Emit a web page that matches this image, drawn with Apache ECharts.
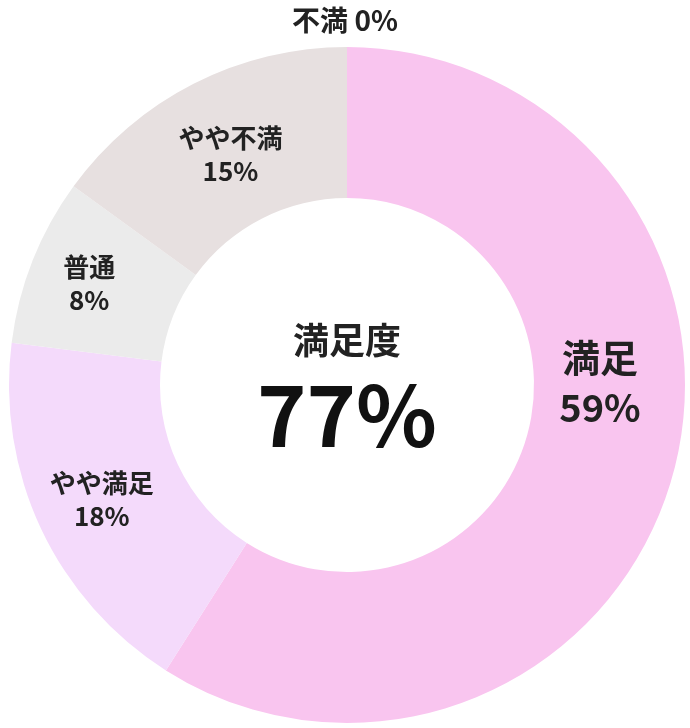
<!DOCTYPE html>
<html><head><meta charset="utf-8">
<script src="https://cdn.jsdelivr.net/npm/echarts@6/dist/echarts.min.js"></script>
<style>html,body{margin:0;padding:0;background:#fff}#c{width:690px;height:728px}</style>
</head><body><div id="c"></div>
<script>
var categories = ['満足', 'やや満足', '普通', 'やや不満', '不満'];
var values = [59, 18, 8, 15, 0];
var colors = ['#f9c5ef', '#f4dafb', '#ebebeb', '#e7e0e0', '#d8d0d0'];
var offsets = [[-2, -77], [-5, 2], [-11, -4], [4, 6], [0, 0]];
var font = '"Noto Sans CJK JP", sans-serif';

var chart = echarts.init(document.getElementById('c'));
chart.setOption({
  animation: false,
  graphic: [
    { type: 'text', left: 'center', top: 6, style: { text: '不満 0%', font: 'bold 28px ' + font, fill: '#222' } },
    { type: 'text', x: 347, y: 340, style: { text: '満足度', font: 'bold 36px ' + font, fill: '#222', align: 'center', verticalAlign: 'middle' } },
    { type: 'text', x: 347, y: 415, style: { text: '77%', font: 'bold 84px ' + font, fill: '#111', align: 'center', verticalAlign: 'middle' } }
  ],
  series: [{
    type: 'pie',
    center: [347, 385],
    radius: [187, 338],
    startAngle: 90,
    clockwise: true,
    avoidLabelOverlap: false,
    labelLine: { show: false },
    data: categories.map(function (n, i) {
      var big = i === 0;
      return {
        name: n, value: values[i],
        itemStyle: { color: colors[i] },
        label: {
          show: values[i] > 0,
          position: 'inside',
          offset: offsets[i],
          formatter: '{b}\n{c}%',
          color: '#222',
          fontFamily: font,
          fontWeight: 'bold',
          fontSize: big ? 38 : 26,
          lineHeight: big ? 50 : 33
        }
      };
    })
  }]
});
</script></body></html>
